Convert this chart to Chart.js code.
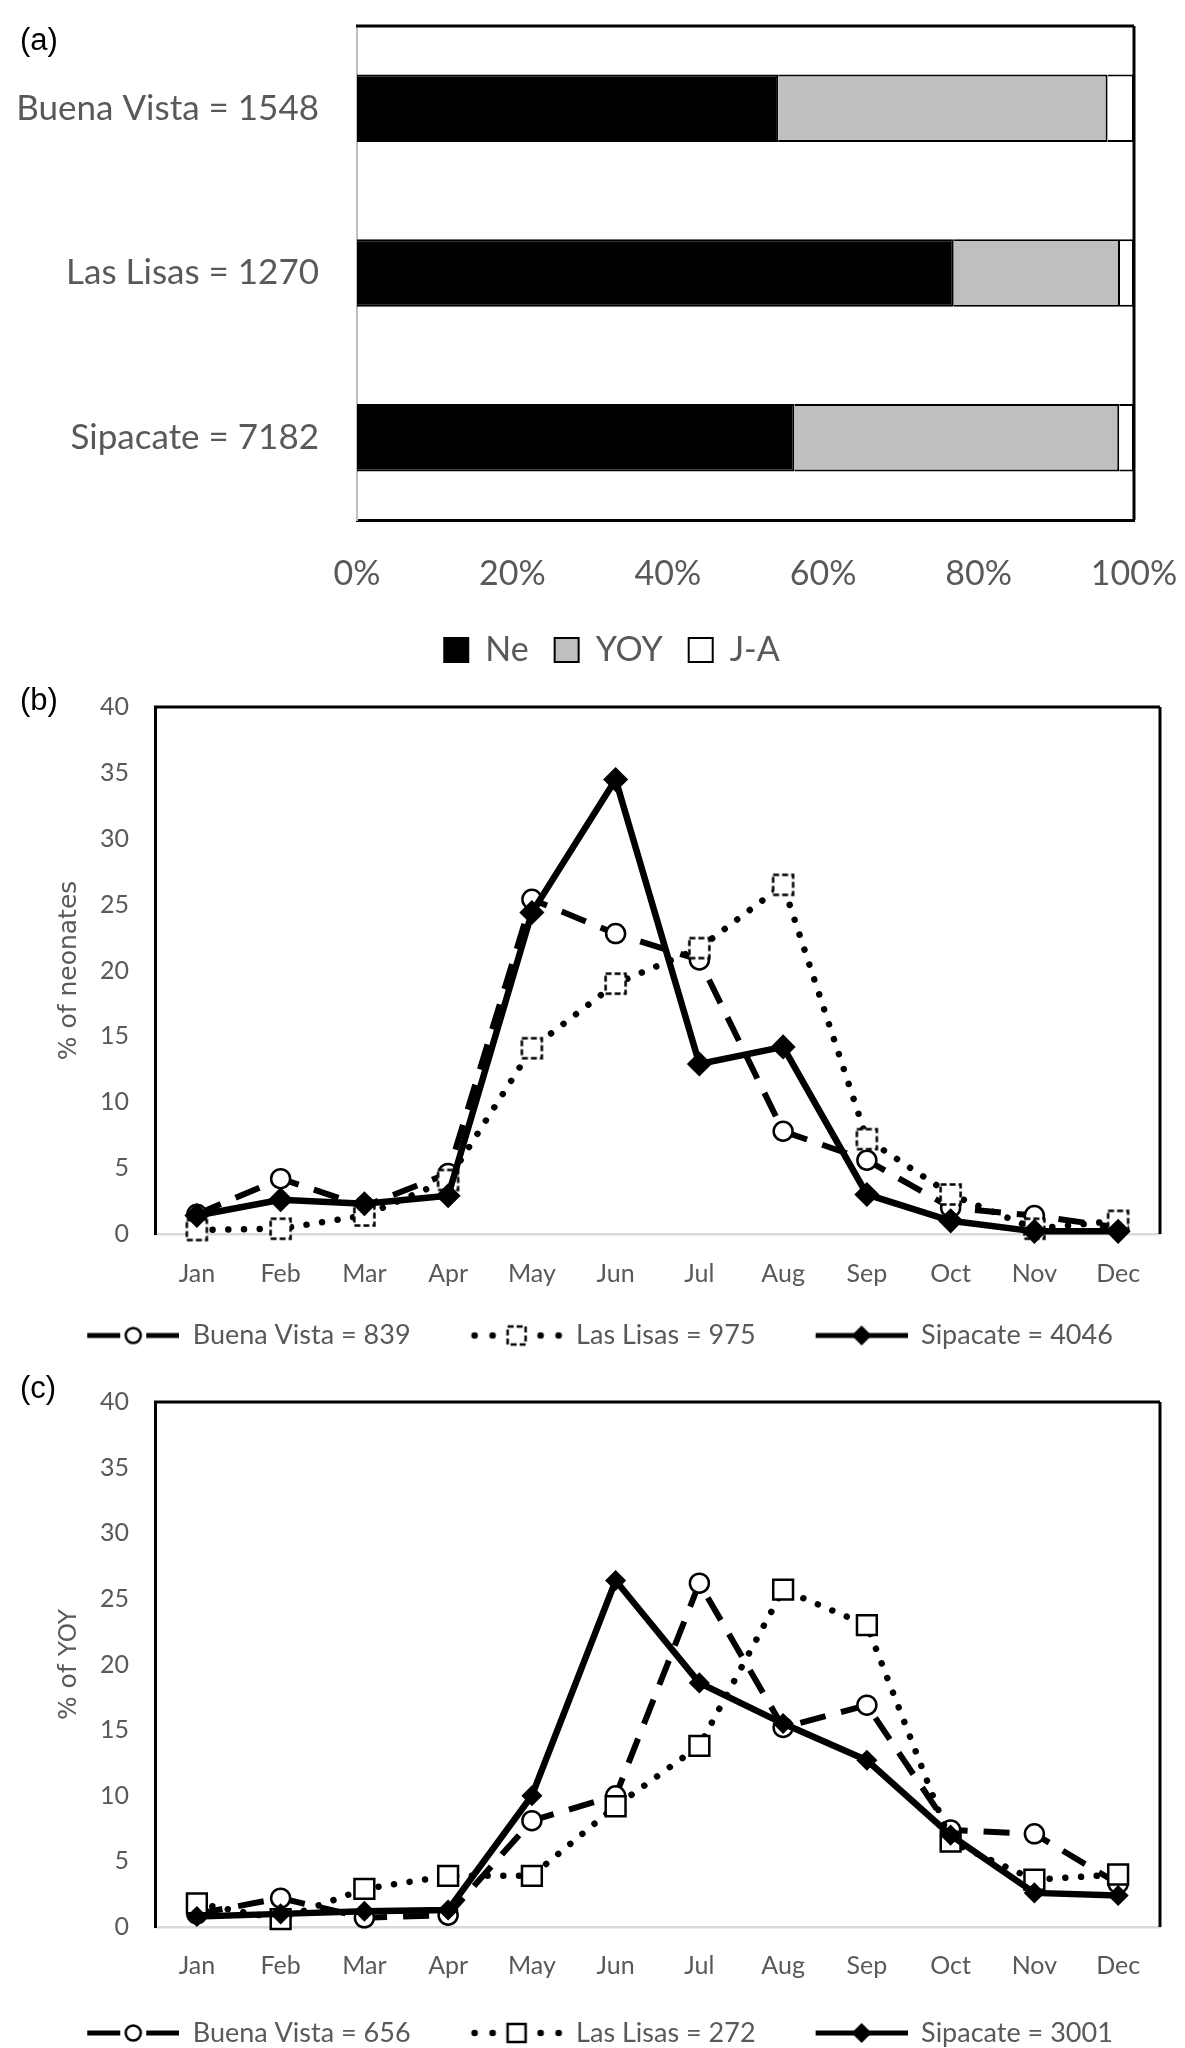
<!DOCTYPE html>
<html><head><meta charset="utf-8">
<script src="https://cdn.jsdelivr.net/npm/chart.js@4.4.1/dist/chart.umd.min.js"></script>
<style>
html,body{margin:0;padding:0;background:#fff;overflow:hidden;width:1185px;height:2048px;}
.panel{position:absolute;left:0;width:1185px;}
.panel canvas{display:block;}
.tag{position:absolute;left:20px;font-family:'Liberation Sans',Arial,sans-serif;font-size:31px;color:#000;line-height:1;}
</style></head><body>
<div class="panel" style="top:0;height:690px"><canvas id="ca" width="1185" height="690"></canvas></div>
<div class="panel" style="top:690px;height:670px"><canvas id="cb" width="1185" height="670"></canvas></div>
<div class="panel" style="top:1360px;height:710px"><canvas id="cc" width="1185" height="710"></canvas></div>
<div class="tag" style="top:24px">(a)</div>
<div class="tag" style="top:684px">(b)</div>
<div class="tag" style="top:1372px">(c)</div>
<script>
// ---------- data ----------
const sites = ['Buena Vista = 1548', 'Las Lisas = 1270', 'Sipacate = 7182'];
const stageNames = ['Ne', 'YOY', 'J-A'];
const neShare  = [54.2, 76.8, 56.3];
const yoyShare = [42.4, 21.4, 41.8];
const jaShare  = [3.4, 1.8, 1.9];
const pctTickStep = 20;

const months = ['Jan','Feb','Mar','Apr','May','Jun','Jul','Aug','Sep','Oct','Nov','Dec'];

const neoBuenaVista = [1.5, 4.2, 2.1, 4.6, 25.4, 22.8, 20.8, 7.8, 5.6, 2.0, 1.4, 0.5];
const neoLasLisas   = [0.3, 0.4, 1.4, 4.1, 14.1, 19.0, 21.7, 26.5, 7.2, 3.0, 0.4, 1.0];
const neoSipacate   = [1.4, 2.6, 2.3, 2.9, 24.4, 34.5, 12.9, 14.2, 3.0, 1.0, 0.2, 0.2];
const neoLegend = ['Buena Vista = 839', 'Las Lisas = 975', 'Sipacate = 4046'];

const yoyBuenaVista = [1.0, 2.2, 0.7, 0.9, 8.1, 10.0, 26.2, 15.2, 16.9, 7.4, 7.1, 3.3];
const yoyLasLisas   = [1.8, 0.6, 2.9, 3.9, 3.9, 9.2, 13.8, 25.7, 23.0, 6.5, 3.6, 4.0];
const yoySipacate   = [0.8, 1.0, 1.2, 1.3, 10.0, 26.4, 18.6, 15.5, 12.7, 7.0, 2.6, 2.4];
const yoyLegend = ['Buena Vista = 656', 'Las Lisas = 272', 'Sipacate = 3001'];

// ---------- helpers ----------
const GREY = '#595959';
Chart.defaults.font.family = 'Lato';
Chart.defaults.animation = false;

function mk(w, h, draw) {
  const c = document.createElement('canvas');
  c.width = w; c.height = h;
  draw(c.getContext('2d'), w, h);
  return c;
}
function sq(g, x, y, s, dashed) {
  g.fillStyle = '#fff'; g.fillRect(x, y, s, s);
  g.lineWidth = 2.5; g.strokeStyle = '#000';
  g.setLineDash(dashed ? [6, 3] : []);
  g.strokeRect(x, y, s, s);
  g.setLineDash([]);
}
const dashedSquare = mk(27, 27, g => sq(g, 3.5, 3.5, 20, true));

const LEG_PAD_LEFT = 30; // blank lead-in so legend entries sit apart
function legendImgs(dashed) {
  const o = LEG_PAD_LEFT;
  const bv = mk(92 + o, 26, g => {
    g.strokeStyle = '#000'; g.lineWidth = 5;
    g.beginPath(); g.moveTo(o, 13); g.lineTo(o + 33, 13); g.moveTo(o + 59, 13); g.lineTo(o + 92, 13); g.stroke();
    g.beginPath(); g.arc(o + 46, 13, 7.5, 0, Math.PI * 2); g.fillStyle = '#fff'; g.fill();
    g.lineWidth = 2.5; g.stroke();
  });
  const ll = mk(92 + o, 26, g => {
    g.fillStyle = '#000';
    [4, 22, 70, 88].forEach(x => { g.beginPath(); g.arc(o + x, 13, 3.3, 0, Math.PI * 2); g.fill(); });
    sq(g, o + 37, 4, 18, dashed);
  });
  const sp = mk(92 + o, 26, g => {
    g.strokeStyle = '#000'; g.lineWidth = 5;
    g.beginPath(); g.moveTo(o, 13); g.lineTo(o + 92, 13); g.stroke();
    g.fillStyle = '#000'; g.beginPath();
    g.moveTo(o + 36, 13); g.lineTo(o + 46, 3); g.lineTo(o + 56, 13); g.lineTo(o + 46, 23); g.closePath(); g.fill();
  });
  return [bv, ll, sp];
}

const framePlugin = {
  id: 'frame',
  afterDraw(chart) {
    const { ctx, chartArea: a } = chart;
    ctx.save();
    ctx.strokeStyle = '#000'; ctx.lineWidth = 3;
    ctx.beginPath();
    ctx.moveTo(a.left - 1, a.top); ctx.lineTo(a.right, a.top);
    ctx.moveTo(a.right, a.top); ctx.lineTo(a.right, a.bottom);
    ctx.stroke();
    ctx.restore();
  }
};
const legendShiftPlugin = {
  id: 'legendShift',
  afterLayout(chart, args, opts) {
    const l = chart.legend;
    if (l && opts && opts.dx) { l.left += opts.dx; l.right += opts.dx; }
  }
};
function noPad(s) { s.paddingLeft = 0; s.paddingRight = 0; s.paddingTop = 0; s.paddingBottom = 0; }

// ---------- (a) stacked bars ----------
new Chart(document.getElementById('ca'), {
  type: 'bar',
  data: {
    labels: sites,
    datasets: [
      { label: stageNames[0], data: neShare,  backgroundColor: '#000',    borderColor: '#000', borderWidth: 2 },
      { label: stageNames[1], data: yoyShare, backgroundColor: '#bfbfbf', borderColor: '#000', borderWidth: 2 },
      { label: stageNames[2], data: jaShare,  backgroundColor: '#fff',    borderColor: '#000', borderWidth: 2 }
    ]
  },
  options: {
    indexAxis: 'y',
    responsive: false,
    devicePixelRatio: 1,
    layout: { padding: { top: 26, left: 0, right: 51, bottom: 13 } },
    datasets: { bar: { categoryPercentage: 1, barPercentage: 0.41 } },
    scales: {
      x: {
        stacked: true, min: 0, max: 100,
        grid: { display: false, drawTicks: false },
        border: { color: '#000', width: 3 },
        ticks: { stepSize: pctTickStep, callback: v => v + '%', color: GREY, padding: 33.6,
                 font: { family: 'Lato', size: 34 } },
        afterFit: s => { s.height = 87; noPad(s); }
      },
      y: {
        stacked: true,
        grid: { display: false, drawTicks: false },
        border: { color: '#bfbfbf', width: 2 },
        ticks: { color: GREY, padding: 38, font: { family: 'Lato', size: 35 } },
        afterFit: s => { s.width = 357; noPad(s); }
      }
    },
    plugins: {
      legend: {
        position: 'bottom',
        labels: { boxWidth: 24, boxHeight: 24, padding: 26, color: GREY, font: { family: 'Lato', size: 34 } }
      },
      legendShift: { dx: 45 },
      tooltip: { enabled: false }
    }
  },
  plugins: [framePlugin, legendShiftPlugin]
});

// ---------- (b), (c) line charts ----------
function lineChart(id, series, legendText, yTitle, lay, squareStyle, squareRadius, diamondRadius, dashedLegend) {
  const imgs = legendImgs(dashedLegend);
  return new Chart(document.getElementById(id), {
    type: 'line',
    data: {
      labels: months,
      datasets: [
        { label: legendText[0], data: series[0], order: 3, clip: false,
          borderColor: '#000', borderWidth: 6, borderDash: [26, 16], borderCapStyle: 'butt',
          pointStyle: 'circle', pointRadius: 9.5, pointBackgroundColor: '#fff',
          pointBorderColor: '#000', pointBorderWidth: 2.5, tension: 0 },
        { label: legendText[1], data: series[1], order: 2, clip: false,
          borderColor: '#000', borderWidth: 6.5, borderDash: [0.01, 15.7], borderCapStyle: 'round',
          pointStyle: squareStyle, pointRadius: squareRadius, pointBackgroundColor: '#fff',
          pointBorderColor: '#000', pointBorderWidth: 2.5, tension: 0 },
        { label: legendText[2], data: series[2], order: 1, clip: false,
          borderColor: '#000', borderWidth: 6.5, borderCapStyle: 'butt',
          pointStyle: 'rectRot', pointRadius: diamondRadius, pointBackgroundColor: '#000',
          pointBorderColor: '#000', pointBorderWidth: 1.5, tension: 0 }
      ]
    },
    options: {
      responsive: false,
      devicePixelRatio: 1,
      layout: { padding: { top: lay.top, left: 0, right: 25, bottom: lay.bottom } },
      scales: {
        x: {
          offset: true,
          grid: { display: false, drawTicks: false },
          border: { color: '#d9d9d9', width: 2.5 },
          ticks: { color: GREY, padding: lay.xPad, font: { family: 'Lato', size: 25 } },
          afterFit: s => { s.height = lay.xH; noPad(s); }
        },
        y: {
          min: 0, max: 40,
          grid: { display: false, drawTicks: false },
          border: { color: '#000', width: 3 },
          ticks: { stepSize: 5, color: GREY, padding: 26, font: { family: 'Lato', size: 25 } },
          title: { display: true, text: yTitle, color: GREY,
                   font: { family: 'DejaVu Sans', size: 25 }, padding: { top: 54, bottom: 0 } },
          afterFit: s => { s.width = 155; noPad(s); }
        }
      },
      plugins: {
        legend: {
          position: 'bottom',
          labels: {
            usePointStyle: true, pointStyleWidth: 92 + LEG_PAD_LEFT, padding: 30, color: GREY,
            font: { family: 'Lato', size: 27 },
            generateLabels: () => legendText.map((t, i) => ({
              text: t, pointStyle: imgs[i], fillStyle: '#fff', strokeStyle: '#fff', lineWidth: 0,
              hidden: false, datasetIndex: i, fontColor: GREY
            }))
          }
        },
        legendShift: { dx: 5 },
        tooltip: { enabled: false }
      }
    },
    plugins: [framePlugin, legendShiftPlugin]
  });
}

lineChart('cb', [neoBuenaVista, neoLasLisas, neoSipacate], neoLegend, '% of neonates',
  { top: 17, bottom: 1, xH: 58, xPad: 25 }, dashedSquare, 12, 11.5, true);
lineChart('cc', [yoyBuenaVista, yoyLasLisas, yoySipacate], yoyLegend, '% of YOY',
  { top: 42, bottom: 13.5, xH: 62.5, xPad: 24 }, 'rect', 14, 9.5, false);
</script>
</body></html>
